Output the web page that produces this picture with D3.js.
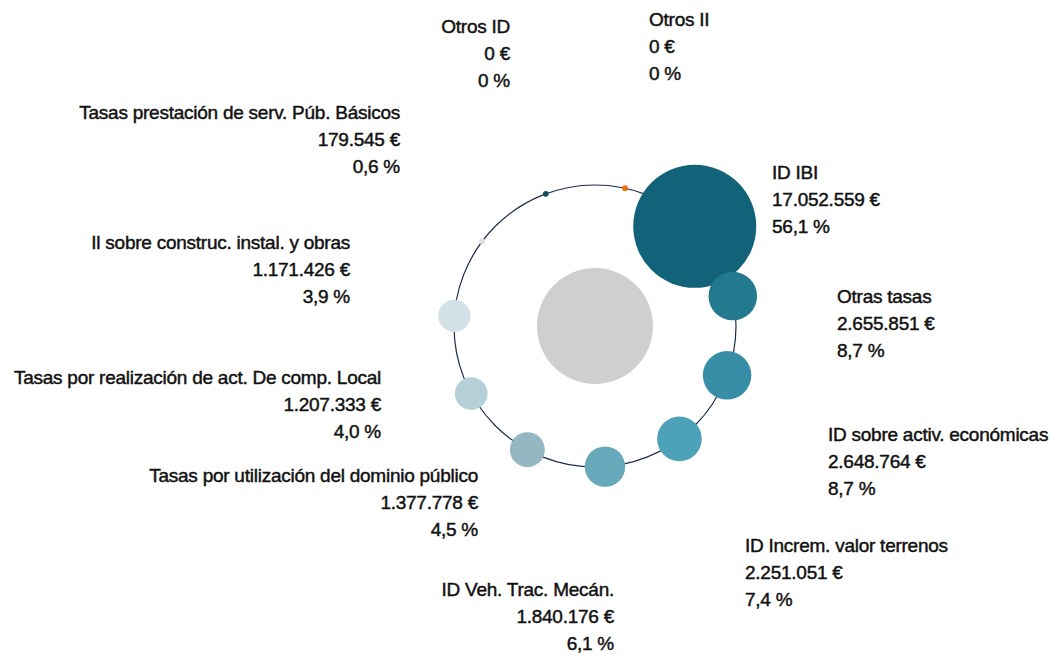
<!DOCTYPE html>
<html>
<head>
<meta charset="utf-8">
<script src="https://cdn.jsdelivr.net/npm/d3@7"></script>
<style>
  body { margin: 0; background: #fff; }
  text { font-family: "Liberation Sans", Arial, sans-serif; font-size: 19px; letter-spacing: -0.25px; fill: #111; stroke: #111; stroke-width: 0.45px; }
</style>
</head>
<body>
<div id="chart"></div>
<script>
// data, clockwise from the top of the ring
var categories = ['Otros II', 'ID IBI', 'Otras tasas', 'ID sobre activ. económicas',
    'ID Increm. valor terrenos', 'ID Veh. Trac. Mecán.', 'Tasas por utilización del dominio público',
    'Tasas por realización de act. De comp. Local', 'Il sobre construc. instal. y obras',
    'Tasas prestación de serv. Púb. Básicos', 'Otros ID'];
var amounts = [0, 17052559, 2655851, 2648764, 2251051, 1840176, 1377778, 1207333, 1171426, 179545, 0];
var shares = [0, 56.1, 8.7, 8.7, 7.4, 6.1, 4.5, 4.0, 3.9, 0.6, 0];
var colors = ['#e8720c', '#12637a', '#237a8f', '#388ea6', '#4da2ba', '#68a8bb',
    '#93b8c2', '#b5d0d8', '#d2e1e6', '#e0e0e0', '#0f4d5e'];

// label layout: offset of first line from ring centre, text anchor
var labelOffsets = [[54, -307], [177, -154], [242, -30], [233, 108], [150, 219], [19, 263],
    [-117, 149], [-214, 51], [-245, -84], [-195, -214], [-85, -300]];
var labelAnchors = ['start', 'start', 'start', 'start', 'start', 'end', 'end', 'end', 'end', 'end', 'end'];

var w = 1050, h = 655;
var cx = 595, cy = 326, ringR = 141, hubR = 58;
var startAngle = 12.3 * Math.PI / 180;
var lineH = 27;

var svg = d3.select('#chart').append('svg').attr('width', w).attr('height', h);

var locale = d3.formatLocale({decimal: ',', thousands: '.', grouping: [3], currency: ['', ' €']});
var fmtEur = locale.format(',.0f');
var fmtPct = locale.format(',.1f');

var angle = d3.scaleLinear().domain([0, categories.length]).range([startAngle, startAngle + 2 * Math.PI]);
var rScale = d3.scaleSqrt().domain([0, d3.max(amounts)]).range([0, 61.5]);

var data = categories.map(function(c, i){
    return {name: c, value: amounts[i], share: shares[i], color: colors[i], a: angle(i)};
});

var g = svg.append('g').attr('transform', 'translate(' + cx + ',' + cy + ')');

g.append('circle').attr('r', ringR)
    .attr('fill', 'none').attr('stroke', '#1b2b4b').attr('stroke-width', 1.2);

g.append('circle').attr('r', hubR).attr('fill', '#cfcfcf');

g.selectAll('circle.bubble').data(data).enter().append('circle')
    .attr('class', 'bubble')
    .attr('cx', function(d){ return ringR * Math.sin(d.a); })
    .attr('cy', function(d){ return -ringR * Math.cos(d.a); })
    .attr('r', function(d){ return d.share < 1 ? 2.9 : rScale(d.value); }) // tiny shares shown as dots
    .attr('fill', function(d){ return d.color; });

var labels = g.selectAll('text.lbl').data(data).enter().append('text')
    .attr('class', 'lbl')
    .attr('text-anchor', function(d, i){ return labelAnchors[i]; })
    .attr('transform', function(d, i){ return 'translate(' + labelOffsets[i][0] + ',' + labelOffsets[i][1] + ')'; });

labels.each(function(d){
    var t = d3.select(this);
    var lines = [d.name, fmtEur(d.value) + ' €', (d.share === 0 ? '0' : fmtPct(d.share)) + ' %'];
    lines.forEach(function(s, k){
        t.append('tspan').attr('x', 0).attr('y', k * lineH).attr('dy', '0.35em').text(s);
    });
});
</script>
</body>
</html>
